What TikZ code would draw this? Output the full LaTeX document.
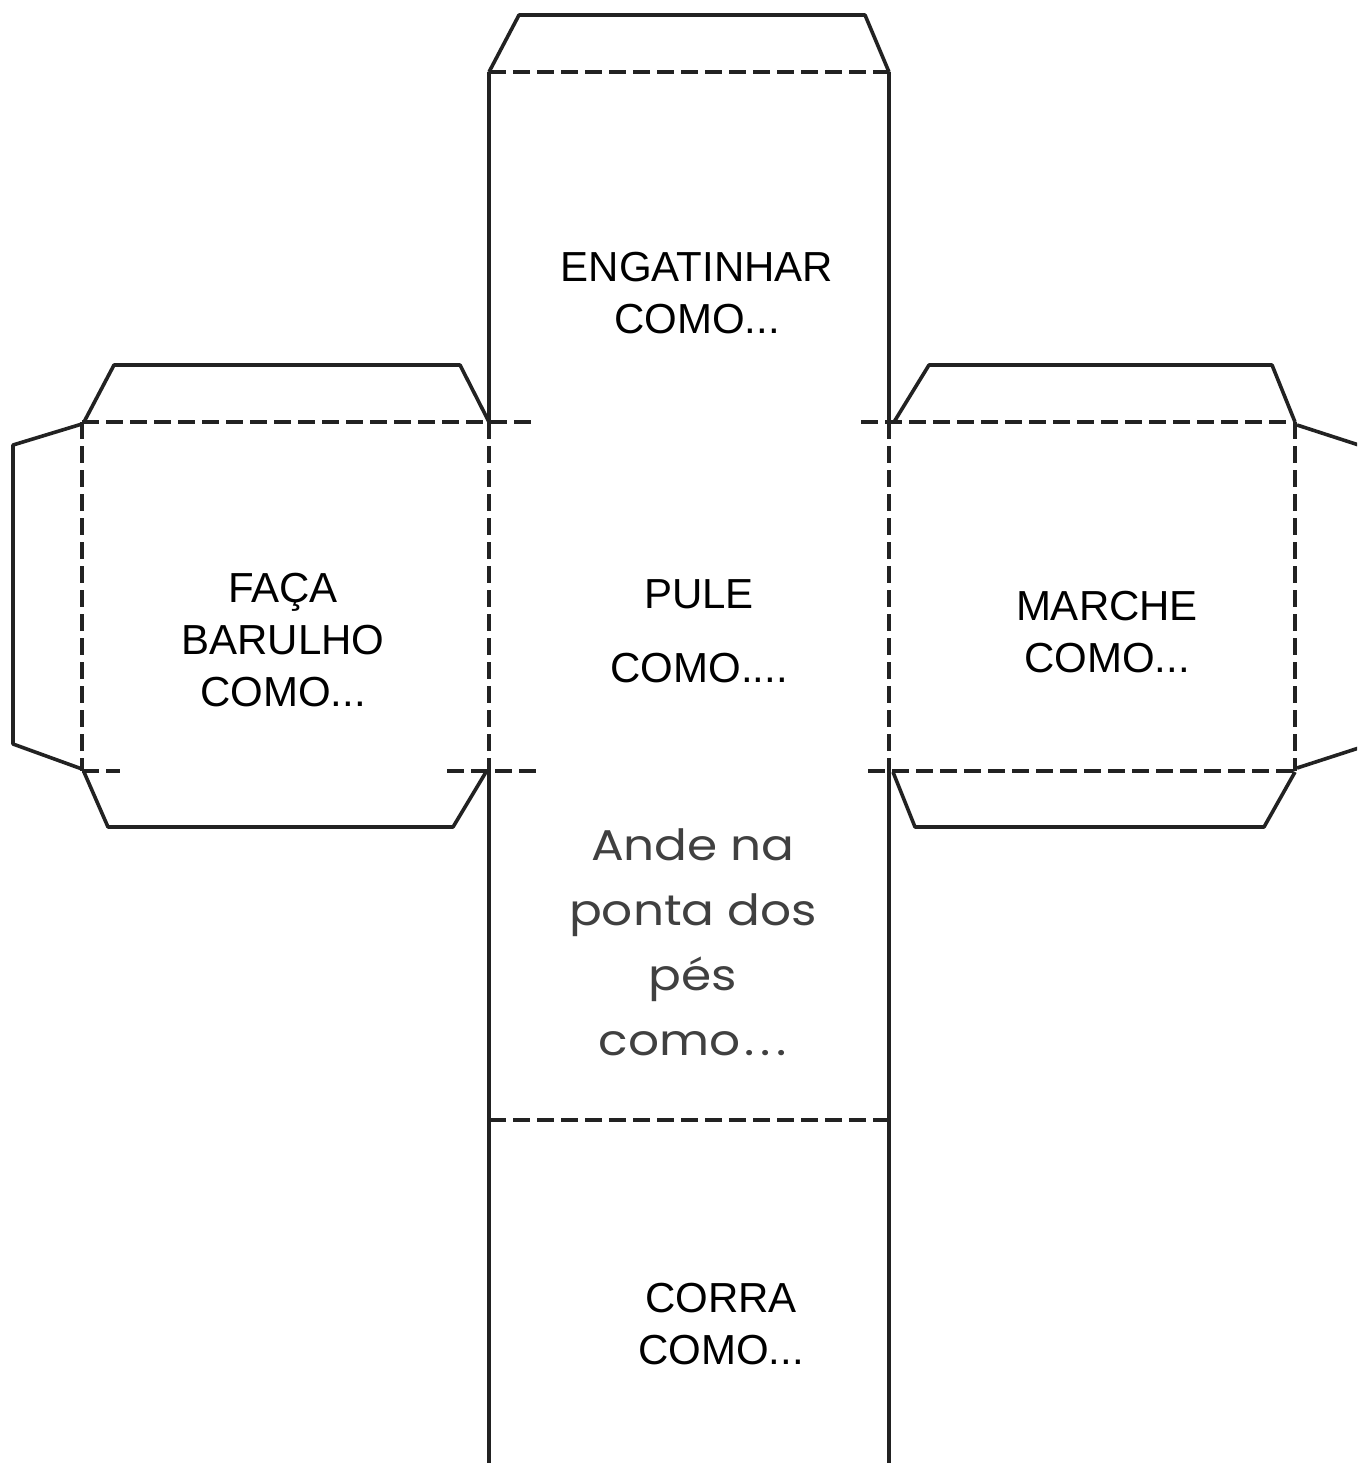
\documentclass[tikz,border=0pt]{standalone}
\usepackage{fontspec}
\setmainfont{Liberation Sans}
\newfontfamily\geofont[FakeStretch=1.13]{Poppins}
\definecolor{ink}{HTML}{222222}
\definecolor{gtext}{HTML}{404040}
\begin{document}
\begin{tikzpicture}[x=0.5pt,y=-0.5pt,
  cutline/.style={draw=ink,line width=1.8pt,line join=round},
  foldline/.style={draw=ink,line width=2.3pt,dash pattern=on 8.5pt off 3.5pt},
  facetext/.style={align=center,inner sep=0pt,font=\fontsize{21}{26}\selectfont},
  geotext/.style={align=center,inner sep=0pt,text=gtext,font=\geofont\fontsize{21.5}{32.5}\selectfont}]
\useasboundingbox (0,0) rectangle (1357,1463);
\clip (0,0) rectangle (1357,1463);
\fill[white] (0,0) rectangle (1357,1463);
% top flap
\draw[cutline] (489,72) -- (519,15) -- (865,15) -- (889,72);
\draw[foldline] (489,72) -- (889,72);
% top face sides
\draw[cutline] (489,72) -- (489,422);
\draw[cutline] (889,72) -- (889,422);
% left face flaps
\draw[cutline] (84,422) -- (114,365) -- (460,365) -- (489,422);
\draw[cutline] (82,424) -- (13,445) -- (13,744) -- (82,769);
\draw[cutline] (84,772) -- (108,827) -- (453,827) -- (486,772);
% right face flaps
\draw[cutline] (894,422) -- (929,365) -- (1272,365) -- (1295,422);
\draw[cutline] (1297,425) -- (1368,448) -- (1368,745) -- (1297,768);
\draw[cutline] (893,772) -- (915,827) -- (1264,827) -- (1295,772);
% horizontal fold lines
\draw[foldline] (82,422) -- (535,422);
\draw[foldline] (861,422) -- (1295,422);
\draw[foldline] (82,771) -- (120,771);
\draw[foldline] (447,771) -- (536,771);
\draw[foldline] (868,771) -- (1295,771);
% vertical fold lines
\draw[foldline] (82,422) -- (82,771);
\draw[foldline] (489,422) -- (489,771);
\draw[foldline] (889,422) -- (889,771);
\draw[foldline] (1295,422) -- (1295,771);
% lower column
\draw[cutline] (489,771) -- (489,1470);
\draw[cutline] (889,771) -- (889,1470);
\draw[foldline] (489,1120) -- (889,1120);
% texts
\node[facetext] (engatinhar) at (697,293) {ENGATINHAR\\COMO...};
\node[facetext,font=\fontsize{21}{37}\selectfont] (pule) at (699,631) {PULE\\COMO....};
\node[facetext] (faca) at (283,640) {FAÇA\\BARULHO\\COMO...};
\node[facetext] (marche) at (1107,632) {MARCHE\\COMO...};
\node[facetext] (corra) at (721,1324) {CORRA\\COMO...};
\node[geotext] (ande) at (693,942) {Ande na\\ponta dos\\pés\\como\kern2pt.\kern3pt.\kern3pt.};
\end{tikzpicture}
\end{document}
